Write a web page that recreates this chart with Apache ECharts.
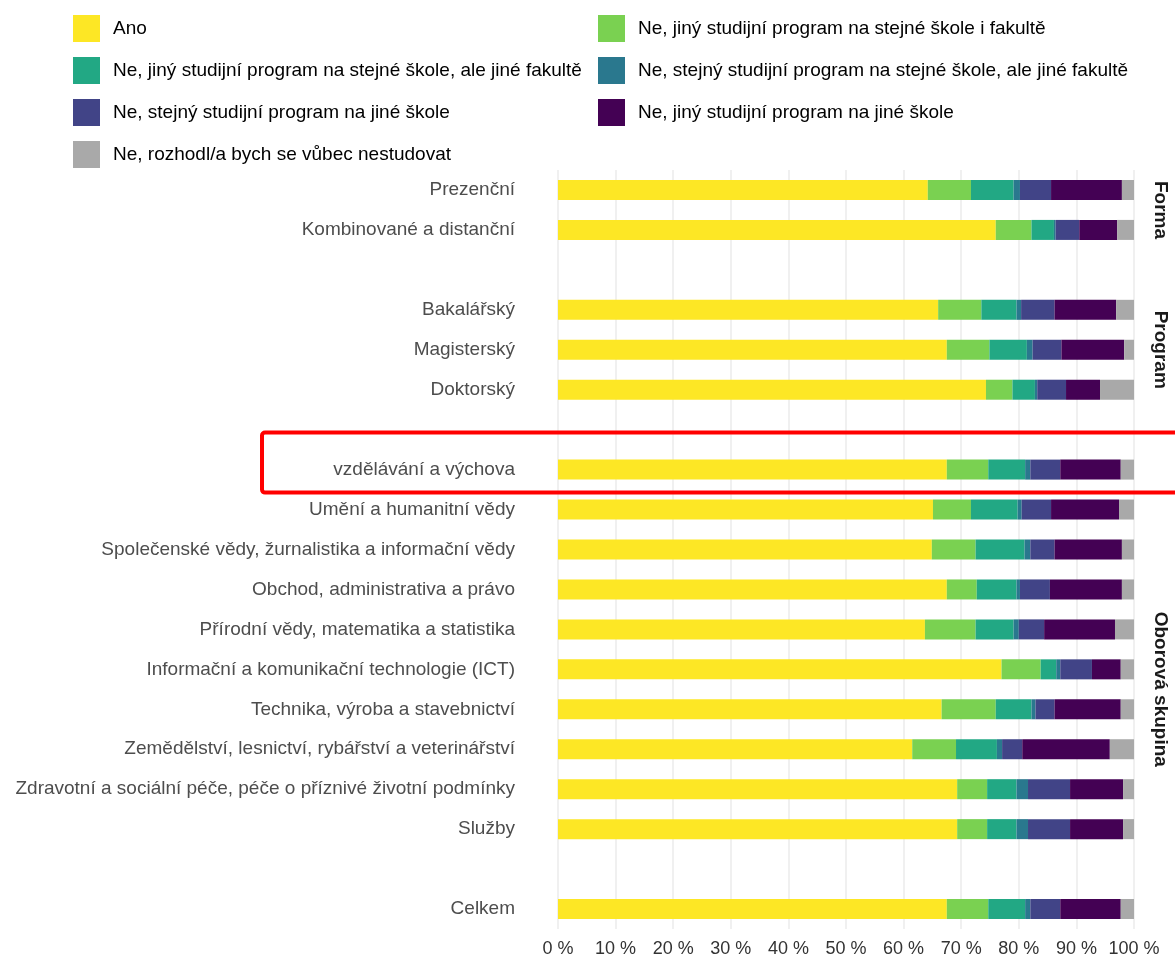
<!DOCTYPE html>
<html>
<head>
<meta charset="utf-8">
<script src="https://cdn.jsdelivr.net/npm/echarts@6/dist/echarts.min.js"></script>
<style>
html,body{margin:0;padding:0;background:#fff;}
#c{width:1175px;height:959px;}
</style>
</head>
<body>
<div id="c"></div>
<script>
// Categories (blank entries are the spacer rows between facet groups)
var categories = [
  'Prezenční',
  'Kombinované a distanční',
  ' ',
  'Bakalářský',
  'Magisterský',
  'Doktorský',
  '  ',
  'vzdělávání a výchova',
  'Umění a humanitní vědy',
  'Společenské vědy, žurnalistika a informační vědy',
  'Obchod, administrativa a právo',
  'Přírodní vědy, matematika a statistika',
  'Informační a komunikační technologie (ICT)',
  'Technika, výroba a stavebnictví',
  'Zemědělství, lesnictví, rybářství a veterinářství',
  'Zdravotní a sociální péče, péče o příznivé životní podmínky',
  'Služby',
  '   ',
  'Celkem'
];

var seriesNames = [
  'Ano',
  'Ne, jiný studijní program na stejné škole i fakultě',
  'Ne, jiný studijní program na stejné škole, ale jiné fakultě',
  'Ne, stejný studijní program na stejné škole, ale jiné fakultě',
  'Ne, stejný studijní program na jiné škole',
  'Ne, jiný studijní program na jiné škole',
  'Ne, rozhodl/a bych se vůbec nestudovat'
];

var ano        = [64.2, 76.0, null, 66.0, 67.5, 74.3, null, 67.5, 65.1, 64.9, 67.5, 63.7, 77.0, 66.6, 61.5, 69.3, 69.3, null, 67.5];
var jinyStejna = [7.5, 6.2, null, 7.5, 7.4, 4.6, null, 7.2, 6.6, 7.6, 5.2, 8.8, 6.8, 9.4, 7.6, 5.2, 5.2, null, 7.2];
var jinyFak    = [7.4, 3.9, null, 6.1, 6.5, 3.9, null, 6.4, 8.1, 8.5, 6.9, 6.6, 2.7, 6.2, 7.1, 5.1, 5.1, null, 6.4];
var stejnyFak  = [1.1, 0.3, null, 0.8, 1.0, 0.4, null, 0.9, 0.7, 1.0, 0.6, 0.9, 0.7, 0.7, 0.9, 2.0, 2.0, null, 0.9];
var stejnyJina = [5.4, 4.1, null, 5.8, 5.0, 5.0, null, 5.2, 5.1, 4.2, 5.2, 4.4, 5.5, 3.3, 3.5, 7.3, 7.3, null, 5.2];
var jinyJina   = [12.3, 6.6, null, 10.7, 10.9, 5.9, null, 10.5, 11.8, 11.7, 12.5, 12.3, 5.0, 11.5, 15.2, 9.2, 9.2, null, 10.5];
var nestudovat = [2.1, 2.9, null, 3.1, 1.7, 5.9, null, 2.3, 2.6, 2.1, 2.1, 3.3, 2.3, 2.3, 4.2, 1.9, 1.9, null, 2.3];

var xTicks = [0, 10, 20, 30, 40, 50, 60, 70, 80, 90, 100];

// Facet strip labels: [label, first row index, last row index]
var strips = [
  ['Forma', 0, 1],
  ['Program', 3, 5],
  ['Oborová skupina', 7, 18]
];

var colors = ['#FDE725', '#7AD151', '#22A884', '#2A788E', '#414487', '#440154', '#A9A9A9'];
var values = [ano, jinyStejna, jinyFak, stejnyFak, stejnyJina, jinyJina, nestudovat];

var FONT = 'Liberation Sans, Arial, sans-serif';
var chart = echarts.init(document.getElementById('c'), null, {renderer: 'canvas'});

var series = seriesNames.map(function (n, i) {
  return {
    name: n,
    type: 'bar',
    stack: 'total',
    barWidth: 20,
    data: values[i],
    itemStyle: {color: colors[i]},
    emphasis: {disabled: true},
    animation: false
  };
});

var legendText = {color: '#000', fontSize: 19, fontFamily: FONT, padding: [0, 0, 0, 8]};

chart.setOption({
  backgroundColor: '#fff',
  animation: false,
  color: colors,
  legend: [
    {
      orient: 'vertical', left: 73, top: 15, padding: 0,
      itemWidth: 27, itemHeight: 27, itemGap: 15, icon: 'rect',
      selectedMode: false,
      textStyle: legendText,
      data: [seriesNames[0], seriesNames[2], seriesNames[4], seriesNames[6]]
    },
    {
      orient: 'vertical', left: 598, top: 15, padding: 0,
      itemWidth: 27, itemHeight: 27, itemGap: 15, icon: 'rect',
      selectedMode: false,
      textStyle: legendText,
      data: [seriesNames[1], seriesNames[3], seriesNames[5]]
    }
  ],
  grid: {left: 558, right: 41, top: 170, bottom: 30, containLabel: false},
  xAxis: {
    type: 'value',
    min: xTicks[0],
    max: xTicks[xTicks.length - 1],
    interval: 10,
    axisLine: {show: false},
    axisTick: {show: false},
    splitLine: {show: true, lineStyle: {color: '#EBEBEB', width: 1.5}},
    axisLabel: {
      color: '#333',
      fontSize: 18,
      fontFamily: FONT,
      margin: 11,
      formatter: function (v) { return v + ' %'; }
    }
  },
  yAxis: {
    type: 'category',
    inverse: true,
    data: categories,
    axisLine: {show: false},
    axisTick: {show: false},
    splitLine: {show: false},
    axisLabel: {
      color: '#4D4D4D',
      fontSize: 19,
      fontFamily: FONT,
      margin: 43,
      interval: 0
    }
  },
  series: series
});

// Facet strip labels and annotation box, positioned from the axis scale
var graphics = [];
strips.forEach(function (s) {
  var y1 = chart.convertToPixel({yAxisIndex: 0}, categories[s[1]]);
  var y2 = chart.convertToPixel({yAxisIndex: 0}, categories[s[2]]);
  graphics.push({
    type: 'text',
    x: 1160,
    y: (y1 + y2) / 2,
    rotation: -Math.PI / 2,
    style: {
      text: s[0],
      fill: '#1A1A1A',
      font: 'bold 19px "Liberation Sans", Arial, sans-serif',
      textAlign: 'center',
      textVerticalAlign: 'middle'
    }
  });
});
var yv = chart.convertToPixel({yAxisIndex: 0}, 'vzdělávání a výchova');
graphics.push({
  type: 'rect',
  shape: {x: 262, y: yv - 37, width: 1000, height: 60, r: 3},
  style: {fill: 'none', stroke: '#FF0000', lineWidth: 4},
  z: 100
});
chart.setOption({graphic: graphics});
</script>
</body>
</html>
